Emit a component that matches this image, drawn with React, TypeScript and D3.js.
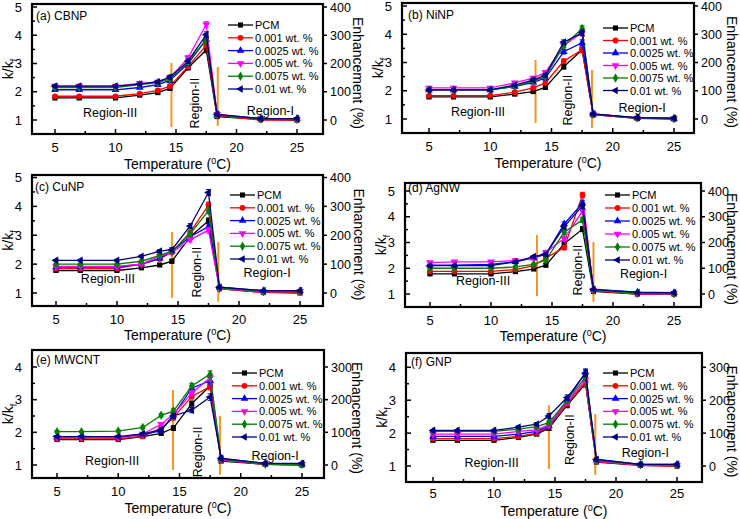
import React from 'react';
import * as d3 from 'd3';

const temps = [5, 7, 10, 12, 13.5, 14.5, 16, 17.5, 18.4, 22, 25];
const seriesLabels = ['PCM', '0.001 wt. %', '0.0025 wt. %', '0.005 wt. %', '0.0075 wt. %', '0.01 wt. %'];
const seriesColors = ['#000000', '#ff0000', '#0000ff', '#ff00ff', '#008000', '#000080'];
const errs = [0.03, 0.03, 0.03, 0.04, 0.05, 0.07, 0.08, 0.1, 0.04, 0.03, 0.03];
const xTickValues = [5, 10, 15, 20, 25];

const cbnp = [
  [1.78, 1.78, 1.78, 1.88, 1.97, 2.12, 2.85, 3.48, 1.12, 1.02, 1.0],
  [1.84, 1.84, 1.84, 1.93, 2.05, 2.2, 2.9, 3.65, 1.15, 1.0, 1.0],
  [2.07, 2.07, 2.07, 2.15, 2.25, 2.4, 3.0, 3.85, 1.18, 1.05, 1.05],
  [2.2, 2.2, 2.2, 2.3, 2.35, 2.5, 3.2, 4.38, 1.2, 1.05, 1.03],
  [2.15, 2.15, 2.15, 2.25, 2.32, 2.45, 3.05, 3.85, 1.18, 1.04, 1.03],
  [2.2, 2.2, 2.2, 2.27, 2.35, 2.52, 3.08, 4.02, 1.2, 1.05, 1.05],
];
const ninp = [
  [1.78, 1.78, 1.78, 1.88, 1.97, 2.12, 2.85, 3.45, 1.15, 1.02, 1.0],
  [1.83, 1.83, 1.83, 1.95, 2.1, 2.28, 3.05, 3.45, 1.15, 1.02, 1.02],
  [2.03, 2.03, 2.03, 2.15, 2.3, 2.45, 3.38, 3.7, 1.17, 1.04, 1.02],
  [2.1, 2.1, 2.1, 2.28, 2.45, 2.65, 3.6, 4.05, 1.18, 1.04, 1.02],
  [2.03, 2.03, 2.03, 2.15, 2.35, 2.5, 3.6, 4.2, 1.17, 1.04, 1.02],
  [2.03, 2.03, 2.03, 2.2, 2.38, 2.55, 3.72, 4.05, 1.18, 1.05, 1.03],
];
const cunp = [
  [1.78, 1.78, 1.78, 1.87, 1.97, 2.1, 2.95, 3.5, 1.15, 1.02, 1.0],
  [1.85, 1.85, 1.85, 2.0, 2.18, 2.42, 3.1, 4.05, 1.15, 1.02, 1.02],
  [1.9, 1.9, 1.9, 2.0, 2.2, 2.45, 2.95, 3.3, 1.2, 1.08, 1.08],
  [1.92, 1.92, 1.92, 2.0, 2.28, 2.4, 2.85, 3.18, 1.15, 1.05, 1.05],
  [2.0, 2.0, 2.0, 2.1, 2.3, 2.45, 3.05, 3.85, 1.18, 1.05, 1.05],
  [2.13, 2.13, 2.13, 2.27, 2.45, 2.5, 3.32, 4.48, 1.2, 1.08, 1.08],
];
const agnw = [
  [1.78, 1.78, 1.78, 1.87, 1.97, 2.12, 2.95, 3.52, 1.1, 1.0, 1.0],
  [1.88, 1.88, 1.88, 1.95, 2.1, 2.4, 2.8, 4.85, 1.12, 1.0, 1.0],
  [2.12, 2.12, 2.15, 2.25, 2.4, 2.55, 3.72, 4.52, 1.18, 1.07, 1.05],
  [2.22, 2.25, 2.25, 2.3, 2.4, 2.62, 3.15, 4.22, 1.15, 1.02, 1.02],
  [2.0, 2.0, 2.0, 2.05, 2.15, 2.32, 3.4, 3.88, 1.15, 1.03, 1.02],
  [2.1, 2.1, 2.1, 2.25, 2.45, 2.55, 3.62, 4.42, 1.18, 1.06, 1.05],
];
const mwcnt = [
  [1.78, 1.78, 1.78, 1.87, 1.97, 2.13, 2.88, 3.42, 1.12, 1.02, 1.0],
  [1.8, 1.8, 1.8, 1.88, 2.12, 2.45, 3.1, 3.4, 1.15, 1.02, 1.0],
  [1.85, 1.85, 1.85, 1.93, 2.05, 2.52, 3.35, 3.58, 1.2, 1.05, 1.03],
  [1.85, 1.85, 1.85, 1.95, 2.25, 2.55, 3.2, 3.68, 1.15, 1.03, 1.02],
  [2.02, 2.02, 2.04, 2.15, 2.52, 2.65, 3.42, 3.78, 1.18, 1.03, 1.02],
  [1.87, 1.87, 1.87, 1.95, 2.08, 2.5, 2.68, 3.08, 1.2, 1.05, 1.05],
];
const gnp = [
  [1.78, 1.78, 1.78, 1.87, 1.97, 2.15, 2.85, 3.5, 1.12, 1.02, 1.0],
  [1.83, 1.83, 1.83, 1.9, 2.0, 2.2, 2.9, 3.55, 1.13, 1.02, 1.0],
  [1.9, 1.9, 1.9, 1.97, 2.05, 2.22, 3.0, 3.85, 1.2, 1.05, 1.05],
  [1.97, 1.97, 1.97, 2.05, 2.1, 2.25, 2.95, 3.62, 1.15, 1.03, 1.02],
  [2.05, 2.05, 2.05, 2.12, 2.2, 2.32, 3.0, 3.7, 1.17, 1.04, 1.03],
  [2.08, 2.08, 2.08, 2.18, 2.27, 2.52, 3.08, 3.82, 1.2, 1.05, 1.05],
];

const panelTitles = ['(a) CBNP', '(b) NiNP', '(c) CuNP', '(d) AgNW', '(e) MWCNT', '(f) GNP'];
const panelData = [cbnp, ninp, cunp, agnw, mwcnt, gnp];
// orange boundaries: [temperature, k top, k bottom]
const boundaryA = [[14.62, 3.02, 0.75], [18.45, 2.88, 0.79]];
const boundaryB = [[13.7, 3.09, 0.86], [18.3, 2.74, 0.68]];
const boundaryC = [[14.5, 3.11, 0.83], [18.3, 2.77, 0.7]];
const boundaryD = [[13.77, 3.29, 0.92], [18.4, 3.02, 0.69]];
const boundaryE = [[14.47, 3.3, 0.85], [18.3, 2.5, 0.7]];
const boundaryF = [[14.5, 2.85, 0.91], [18.3, 2.58, 0.73]];
const panelBoundaries = [boundaryA, boundaryB, boundaryC, boundaryD, boundaryE, boundaryF];
// region labels: [temperature, k] for Region-III, Region-II (vertical), Region-I
const regionA = [[9.55, 1.25], [16.5, 1.6], [22.8, 1.35]];
const regionB = [[9.0, 1.25], [16.3, 1.67], [22.4, 1.39]];
const regionC = [[9.26, 1.5], [16.55, 1.72], [22.3, 1.72]];
const regionD = [[9.35, 1.54], [17.1, 1.93], [22.5, 1.81]];
const regionE = [[9.5, 1.15], [16.5, 1.4], [22.8, 1.3]];
const regionF = [[9.8, 1.12], [16.2, 1.8], [22.4, 1.4]];
const panelRegions = [regionA, regionB, regionC, regionD, regionE, regionF];
const regionNames = ['Region-III', 'Region-II', 'Region-I'];

const layouts = [
  { left: 32, top: 4, right: 323, bottom: 134, x5: 55, x25: 297, kLo: 1, kHi: 5, pyLo: 120, pyHi: 7, enhMax: 400, legX: 228, legY: 25, legDy: 12.8, titleX: 36, titleY: 20, rLabX: 353, xTickDy: 18, xTitleDy: 35 },
  { left: 402, top: 3, right: 694, bottom: 133, x5: 429, x25: 674, kLo: 1, kHi: 5, pyLo: 119, pyHi: 6, enhMax: 400, legX: 603, legY: 28, legDy: 12.5, titleX: 408, titleY: 19, rLabX: 727, xTickDy: 18, xTitleDy: 35 },
  { left: 32, top: 175, right: 323, bottom: 306, x5: 56, x25: 300, kLo: 1, kHi: 5, pyLo: 293, pyHi: 177.5, enhMax: 400, legX: 230, legY: 195, legDy: 12.8, titleX: 35, titleY: 191, rLabX: 354, xTickDy: 18, xTitleDy: 34 },
  { left: 405, top: 183, right: 701, bottom: 307, x5: 430, x25: 674, kLo: 1, kHi: 5, pyLo: 294, pyHi: 191, enhMax: 400, legX: 605, legY: 195, legDy: 13, titleX: 408, titleY: 192, rLabX: 727, xTickDy: 18, xTitleDy: 34 },
  { left: 32, top: 350, right: 324, bottom: 478, x5: 57, x25: 302, kLo: 1, kHi: 4, pyLo: 465, pyHi: 367, enhMax: 300, legX: 232, legY: 373, legDy: 12.8, titleX: 36, titleY: 364, rLabX: 352, xTickDy: 18, xTitleDy: 35 },
  { left: 406, top: 353, right: 702, bottom: 482, x5: 433, x25: 677, kLo: 1, kHi: 4, pyLo: 466, pyHi: 367.3, enhMax: 300, legX: 603, legY: 373, legDy: 12.8, titleX: 411, titleY: 366, rLabX: 727, xTickDy: 16, xTitleDy: 34 },
];

const FONT = "'Liberation Sans', Arial, sans-serif";
const ORANGE = '#f5961e';

const symbolTypes = [d3.symbolSquare, d3.symbolCircle, d3.symbolTriangle, d3.symbolTriangle, d3.symbolDiamond, d3.symbolTriangle];
const symbolRot = [0, 0, 0, 180, 0, -90];
const symbolSizes = [26, 26, 26, 26, 26, 26];

function Marker({ i, cx, cy }: { i: number; cx: number; cy: number }) {
  const p = d3.symbol().type(symbolTypes[i]).size(symbolSizes[i])() as string;
  return <path d={p} transform={`translate(${cx},${cy}) rotate(${symbolRot[i]})`} fill={seriesColors[i]} />;
}

function Panel({ idx }: { idx: number }) {
  const L = layouts[idx];
  const data = panelData[idx];
  const x = d3.scaleLinear().domain([5, 25]).range([L.x5, L.x25]);
  const y = d3.scaleLinear().domain([L.kLo, L.kHi]).range([L.pyLo, L.pyHi]);
  const yr = d3.scaleLinear().domain([0, 100 * (L.kHi - L.kLo)]).range([L.pyLo, L.pyHi]);
  const line = d3.line<number>().x((_, j) => x(temps[j])).y((d) => y(d));
  const yTicks = d3.range(L.kLo, L.kHi + 0.001, 1);
  const yMinor = d3.range(0.5, L.kHi + 0.6, 0.5).filter((v) => y(v) > L.top + 1 && y(v) < L.bottom - 1 && v % 1 !== 0);
  const xMinor = d3.range(2.5, 30, 2.5).filter((v) => x(v) > L.left + 1 && x(v) < L.right - 1 && v % 5 !== 0);
  const rTicks = d3.range(0, L.enhMax + 1, 100);
  const midY = (L.top + L.bottom) / 2;
  return (
    <g fontFamily={FONT}>
      {panelBoundaries[idx].map((b, j) => (
        <line key={'b' + j} x1={x(b[0])} x2={x(b[0])} y1={y(b[1])} y2={y(b[2])} stroke={ORANGE} strokeWidth={2} />
      ))}
      {data.map((s, i) => (
        <g key={'s' + i}>
          <path d={line(s) as string} fill="none" stroke={seriesColors[i]} strokeWidth={1.3} />
          {s.map((v, j) => (
            <g key={j}>
              <line x1={x(temps[j])} x2={x(temps[j])} y1={y(v - errs[j])} y2={y(v + errs[j])} stroke={seriesColors[i]} strokeWidth={1} />
              <line x1={x(temps[j]) - 2.5} x2={x(temps[j]) + 2.5} y1={y(v - errs[j])} y2={y(v - errs[j])} stroke={seriesColors[i]} strokeWidth={1} />
              <line x1={x(temps[j]) - 2.5} x2={x(temps[j]) + 2.5} y1={y(v + errs[j])} y2={y(v + errs[j])} stroke={seriesColors[i]} strokeWidth={1} />
              <Marker i={i} cx={x(temps[j])} cy={y(v)} />
            </g>
          ))}
        </g>
      ))}
      <rect x={L.left} y={L.top} width={L.right - L.left} height={L.bottom - L.top} fill="none" stroke="#000" strokeWidth={2.2} />
      {xTickValues.map((t) => (
        <g key={'xt' + t}>
          <line x1={x(t)} x2={x(t)} y1={L.bottom} y2={L.bottom - 5} stroke="#000" strokeWidth={1.5} />
          <text x={x(t)} y={L.bottom + L.xTickDy} fontSize={13} textAnchor="middle">{t}</text>
        </g>
      ))}
      {xMinor.map((t) => (
        <line key={'xm' + t} x1={x(t)} x2={x(t)} y1={L.bottom} y2={L.bottom - 3} stroke="#000" strokeWidth={1.5} />
      ))}
      {yTicks.map((t) => (
        <g key={'yt' + t}>
          <line x1={L.left} x2={L.left + 5} y1={y(t)} y2={y(t)} stroke="#000" strokeWidth={1.5} />
          <text x={L.left - 10} y={y(t) + 4.5} fontSize={13} textAnchor="end">{t}</text>
        </g>
      ))}
      {yMinor.map((t) => (
        <line key={'ym' + t} x1={L.left} x2={L.left + 3} y1={y(t)} y2={y(t)} stroke="#000" strokeWidth={1.5} />
      ))}
      {rTicks.map((t) => (
        <g key={'rt' + t}>
          <line x1={L.right} x2={L.right + 4} y1={yr(t)} y2={yr(t)} stroke="#000" strokeWidth={1.5} />
          <text x={L.right + 7} y={yr(t) + 4.5} fontSize={12.5} textAnchor="start">{t}</text>
        </g>
      ))}
      <text x={(L.left + L.right) / 2} y={L.bottom + L.xTitleDy} fontSize={14} textAnchor="middle">
        Temperature (<tspan dy={-5} fontSize={9}>0</tspan><tspan dy={5}>C)</tspan>
      </text>
      <text transform={`translate(${L.left - 19},${midY}) rotate(-90)`} fontSize={14} textAnchor="middle">
        k/k<tspan dy={4} fontSize={9}>f</tspan>
      </text>
      <text transform={`translate(${L.rLabX},${midY + 4}) rotate(90)`} fontSize={14} textAnchor="middle">
        Enhancement (%)
      </text>
      <text x={L.titleX} y={L.titleY} fontSize={12}>{panelTitles[idx]}</text>
      {panelRegions[idx].map((r, j) =>
        j === 1 ? (
          <text key={'r' + j} transform={`translate(${x(r[0]) + 4.5},${y(r[1])}) rotate(-90)`} fontSize={12.5} textAnchor="middle">
            {regionNames[j]}
          </text>
        ) : (
          <text key={'r' + j} x={x(r[0])} y={y(r[1]) + 4.5} fontSize={12.5} textAnchor="middle">
            {regionNames[j]}
          </text>
        )
      )}
      {seriesLabels.map((lab, i) => {
        const ly = L.legY + i * L.legDy;
        return (
          <g key={'l' + i}>
            <line x1={L.legX} x2={L.legX + 25} y1={ly} y2={ly} stroke={seriesColors[i]} strokeWidth={1.3} />
            <Marker i={i} cx={L.legX + 12.5} cy={ly} />
            <text x={L.legX + 27} y={ly + 4} fontSize={11}>{lab}</text>
          </g>
        );
      })}
    </g>
  );
}

export default function App() {
  return (
    <svg width={740} height={519} style={{ position: 'absolute', left: 0, top: 0, background: '#fff' }}>
      <rect width={740} height={519} fill="#fff" />
      {layouts.map((_, i) => (
        <Panel key={i} idx={i} />
      ))}
    </svg>
  );
}
